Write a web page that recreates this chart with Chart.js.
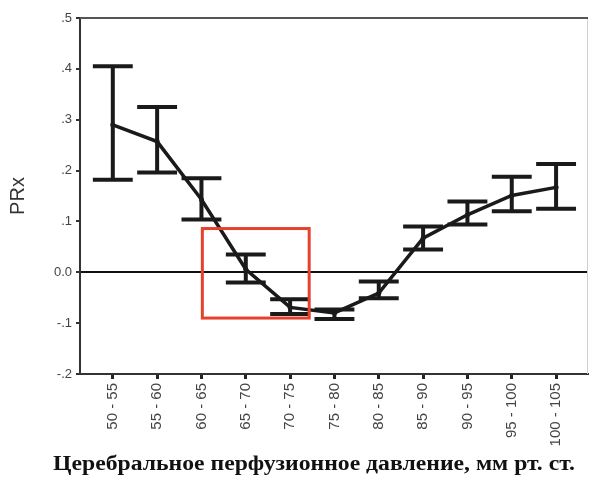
<!DOCTYPE html>
<html>
<head>
<meta charset="utf-8">
<script src="https://cdn.jsdelivr.net/npm/chart.js@4"></script>
<style>
  html, body { margin: 0; padding: 0; background: #fff; }
  #wrap { width: 592px; height: 477px; }
</style>
</head>
<body>
<div id="wrap"><canvas id="prx-chart" width="592" height="477"></canvas></div>
<script>
// categories: CPP ranges, mm Hg
const categories = ['50 - 55', '55 - 60', '60 - 65', '65 - 70', '70 - 75', '75 - 80',
  '80 - 85', '85 - 90', '90 - 95', '95 - 100', '100 - 105'];
// PRx mean and error-bar bounds
const prxMean  = [0.290, 0.257, 0.143, 0.006, -0.069, -0.080, -0.041, 0.067, 0.113, 0.151, 0.167];
const prxUpper = [0.405, 0.325, 0.185, 0.035, -0.053, -0.073, -0.018, 0.090, 0.139, 0.188, 0.213];
const prxLower = [0.182, 0.196, 0.104, -0.020, -0.082, -0.092, -0.051, 0.045, 0.094, 0.120, 0.125];
const yTickValues = [-0.2, -0.1, 0, 0.1, 0.2, 0.3, 0.4, 0.5];
const yTickLabels = ['-.2', '-.1', '0.0', '.1', '.2', '.3', '.4', '.5'];
// highlighted zone (category index range, PRx range)
const boxX = [2.02, 4.43];
const boxY = [-0.09, 0.086];

const xTitle = 'Церебральное перфузионное давление, мм рт. ст.';

const extras = {
  id: 'extras',
  beforeDatasetsDraw(chart) {
    const { ctx, chartArea: a } = chart;
    ctx.save();
    ctx.strokeStyle = '#d0d0d0';
    ctx.lineWidth = 1;
    ctx.beginPath();
    ctx.moveTo(a.right - 0.5, a.top);
    ctx.lineTo(a.right - 0.5, a.bottom);
    ctx.stroke();
    ctx.strokeStyle = '#555';
    ctx.lineWidth = 2;
    ctx.beginPath();
    ctx.moveTo(a.left, a.top);
    ctx.lineTo(a.right, a.top);
    ctx.stroke();
    ctx.restore();
  },
  afterDatasetsDraw(chart) {
    const { ctx } = chart;
    const x = chart.scales.x, y = chart.scales.y;
    const half = (x.getPixelForValue(1) - x.getPixelForValue(0)) * 0.45;
    ctx.save();
    ctx.strokeStyle = '#1a1a1a';
    ctx.lineWidth = 4;
    ctx.lineCap = 'butt';
    prxMean.forEach((m, i) => {
      const px = x.getPixelForValue(i);
      const top = y.getPixelForValue(prxUpper[i]);
      const bot = y.getPixelForValue(prxLower[i]);
      ctx.beginPath();
      ctx.moveTo(px, top); ctx.lineTo(px, bot);
      ctx.moveTo(px - half, top); ctx.lineTo(px + half, top);
      ctx.moveTo(px - half, bot); ctx.lineTo(px + half, bot);
      ctx.stroke();
    });
    // red box
    ctx.strokeStyle = '#e5422b';
    ctx.lineWidth = 3;
    const x0 = x.getPixelForValue(boxX[0]), x1 = x.getPixelForValue(boxX[1]);
    const y0 = y.getPixelForValue(boxY[1]), y1 = y.getPixelForValue(boxY[0]);
    ctx.strokeRect(x0, y0, x1 - x0, y1 - y0);
    ctx.restore();
  },
  afterDraw(chart) {
    // x axis caption, wide bold serif
    const { ctx } = chart;
    ctx.save();
    ctx.fillStyle = '#111';
    ctx.font = 'bold 20px "Liberation Serif"';
    ctx.textAlign = 'center';
    ctx.textBaseline = 'alphabetic';
    const w = ctx.measureText(xTitle).width;
    ctx.translate(314, 470);
    ctx.scale(522 / w, 1);
    ctx.fillText(xTitle, 0, 0);
    ctx.restore();
  }
};

new Chart(document.getElementById('prx-chart'), {
  type: 'line',
  data: {
    datasets: [{
      data: prxMean.map((v, i) => ({ x: i, y: v })),
      borderColor: '#1a1a1a',
      borderWidth: 3.5,
      pointRadius: 2.5,
      pointBackgroundColor: '#1a1a1a',
      pointBorderWidth: 0,
      tension: 0
    }]
  },
  options: {
    responsive: false,
    animation: false,
    events: [],
    layout: { padding: { top: 18, right: 2, left: 0, bottom: 0 } },
    plugins: { legend: { display: false }, tooltip: { enabled: false } },
    scales: {
      x: {
        type: 'linear',
        min: -0.74,
        max: 10.72,
        afterBuildTicks: s => { s.ticks = categories.map((c, i) => ({ value: i })); },
        afterFit: s => { s.height = 103; },
        ticks: {
          autoSkip: false,
          minRotation: 90,
          maxRotation: 90,
          padding: 4,
          color: '#444',
          font: { family: 'Arial, "Liberation Sans"', size: 15 },
          callback: v => categories[v]
        },
        grid: { drawOnChartArea: false, tickLength: 5, tickColor: '#222', tickWidth: 3 },
        border: { color: '#333', width: 2 }
      },
      y: {
        min: -0.2,
        max: 0.5,
        afterBuildTicks: s => { s.ticks = yTickValues.map(v => ({ value: v })); },
        afterFit: s => { s.width = 80; },
        ticks: {
          color: '#444',
          padding: 4,
          font: { family: 'Arial, "Liberation Sans"', size: 13 },
          callback: (v, i) => yTickLabels[i]
        },
        grid: {
          color: c => (c.tick && Math.abs(c.tick.value) < 1e-9 ? '#111' : 'rgba(0,0,0,0)'),
          lineWidth: 2,
          tickLength: 4,
          tickColor: '#333',
          tickWidth: 2
        },
        border: { color: '#333', width: 2 },
        title: {
          display: true,
          text: 'PRx',
          color: '#333',
          font: { family: 'Arial, "Liberation Sans"', size: 20 },
          padding: { top: 6, bottom: 0 }
        }
      }
    }
  },
  plugins: [extras]
});
</script>
</body>
</html>
